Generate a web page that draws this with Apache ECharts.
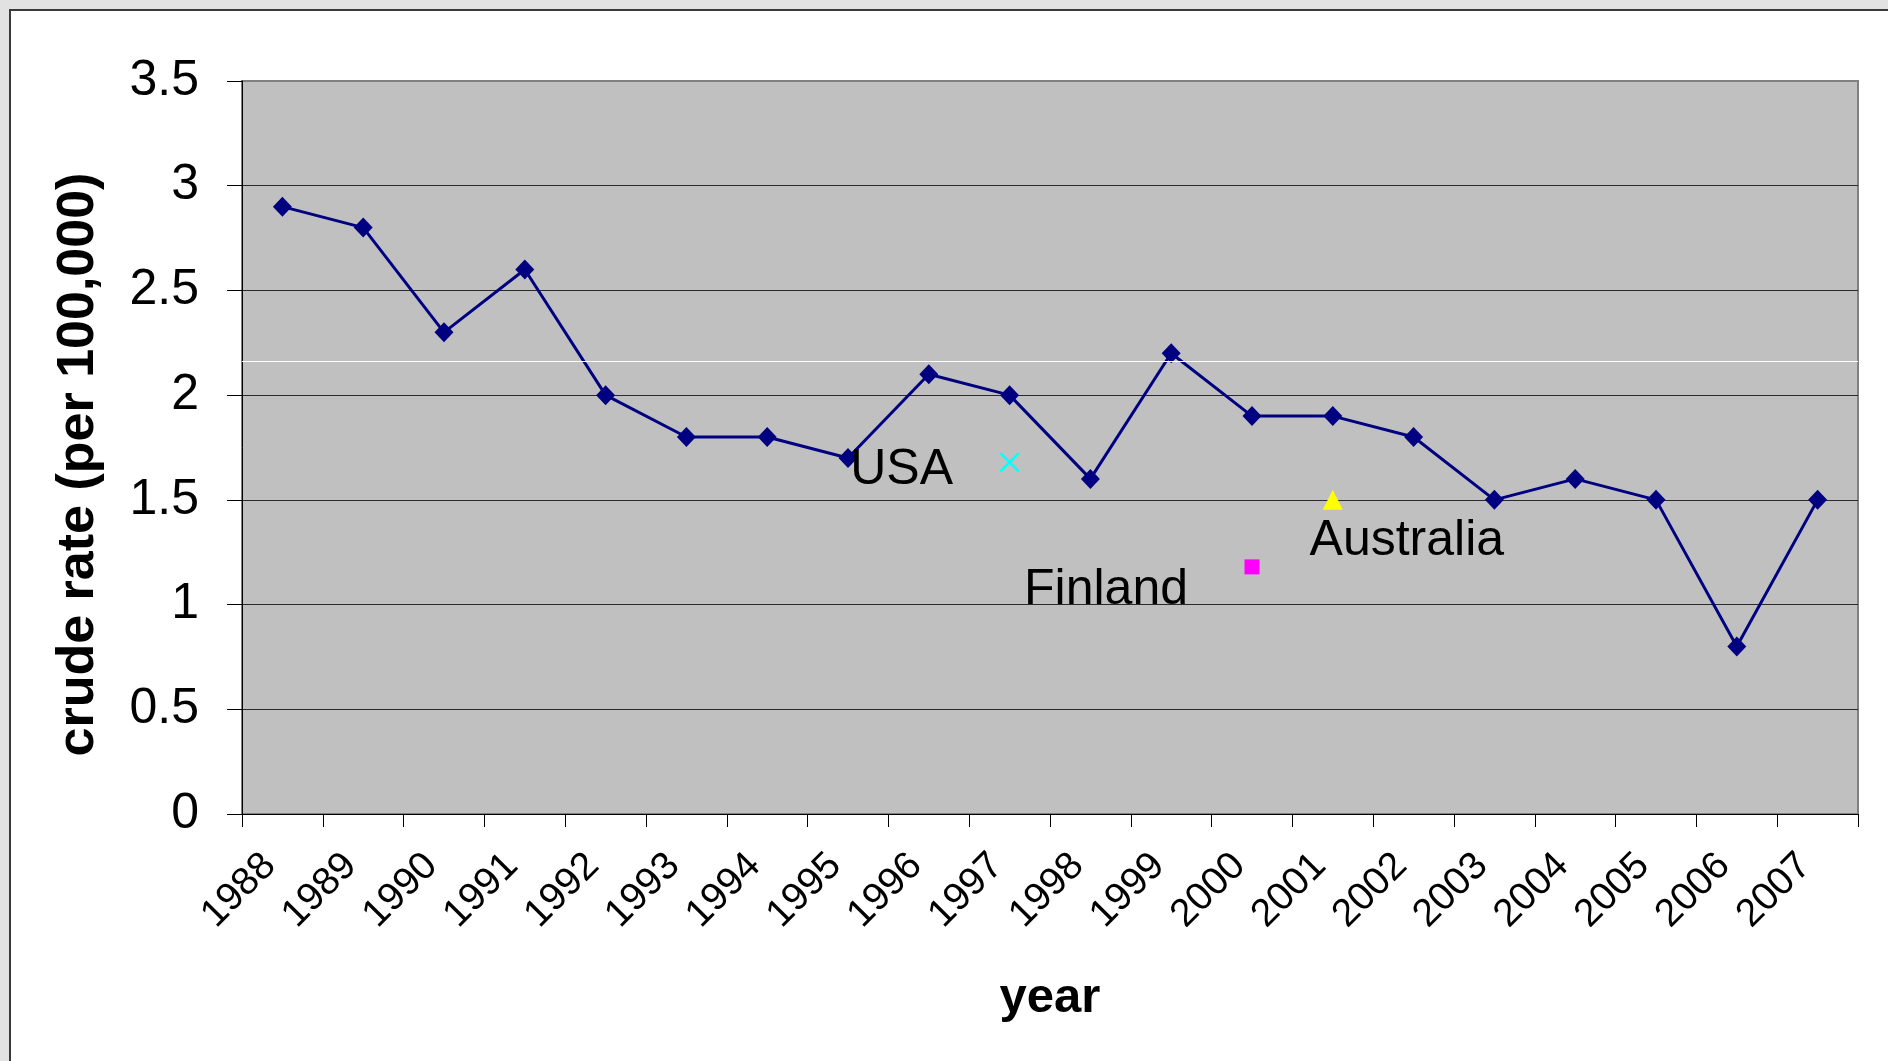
<!DOCTYPE html>
<html>
<head>
<meta charset="utf-8">
<title>Crude rate by year</title>
<script src="https://cdn.jsdelivr.net/npm/echarts@6/dist/echarts.min.js"></script>
<style>
  html, body { margin: 0; padding: 0; background: #e2e2e2; }
  #chart { width: 1888px; height: 1061px; }
</style>
</head>
<body>
<div id="chart"></div>
<script>
// Annual crude rate (per 100,000), 1988-2007
const years = ['1988', '1989', '1990', '1991', '1992', '1993', '1994', '1995', '1996', '1997',
               '1998', '1999', '2000', '2001', '2002', '2003', '2004', '2005', '2006', '2007'];
const crudeRates = [2.9, 2.8, 2.3, 2.6, 2.0, 1.8, 1.8, 1.7, 2.1, 2.0,
                    1.6, 2.2, 1.9, 1.9, 1.8, 1.5, 1.6, 1.5, 0.8, 1.5];

// Single-year comparison values for other countries
const countryNames = ['USA', 'Finland', 'Australia'];
const countryYears = ['1997', '2000', '2001'];
const countryRates = [1.68, 1.18, 1.5];

// Y axis range
const yMin = 0;
const yMax = 3.5;
const yStep = 0.5;

// Faint white reference line across the plot
const highlightLevel = 2.163;

const FONT = '"Liberation Sans", Arial, Helvetica, sans-serif';

// "X" marker drawn as a filled outline
const crossPath = 'path://M1.7,0 L10,8.3 L18.3,0 L20,1.7 L11.7,10 L20,18.3 L18.3,20 L10,11.7 L1.7,20 L0,18.3 L8.3,10 L0,1.7 Z';

const countryStyles = [
  { symbol: crossPath, size: 20, color: '#00FFFF', offset: [-108, 8] },
  { symbol: 'rect', size: 15, color: '#FF00FF', offset: [-146, 23] },
  { symbol: 'triangle', size: [20, 20], color: '#FFFF00', offset: [74, 41] }
];

const countrySeries = countryNames.map((name, i) => ({
  name: name,
  type: 'scatter',
  symbol: countryStyles[i].symbol,
  symbolSize: countryStyles[i].size,
  itemStyle: { color: countryStyles[i].color, opacity: 1 },
  z: 4,
  label: {
    show: true,
    position: 'inside',
    offset: countryStyles[i].offset,
    formatter: name,
    color: '#000',
    opacity: 1,
    textBorderWidth: 0,
    fontFamily: FONT,
    fontSize: 50
  },
  data: [[countryYears[i], countryRates[i]]]
}));

const chart = echarts.init(document.getElementById('chart'), null, { renderer: 'canvas' });

chart.setOption({
  animation: false,
  backgroundColor: '#e2e2e2',
  graphic: [{
    type: 'rect',
    z: -10,
    shape: { x: 10, y: 10, width: 1900, height: 1100 },
    style: { fill: '#ffffff', stroke: '#3a3a3a', lineWidth: 2 }
  }],
  grid: {
    left: 242,
    right: 30,
    top: 81,
    bottom: 247,
    show: true,
    backgroundColor: '#C0C0C0',
    borderColor: '#808080',
    borderWidth: 2
  },
  xAxis: {
    type: 'category',
    data: years,
    boundaryGap: true,
    name: 'year',
    nameLocation: 'middle',
    nameGap: 160,
    nameTextStyle: { fontFamily: FONT, fontSize: 49, fontWeight: 'bold', color: '#000' },
    axisLine: { show: true, lineStyle: { color: '#000', width: 1 } },
    axisTick: { show: true, length: 13, lineStyle: { color: '#000', width: 1 } },
    axisLabel: {
      rotate: 45,
      interval: 0,
      margin: 33,
      padding: [0, 18, 0, 0],
      fontFamily: FONT,
      fontSize: 39,
      color: '#000'
    },
    splitLine: { show: false }
  },
  yAxis: {
    type: 'value',
    min: yMin,
    max: yMax,
    interval: yStep,
    name: 'crude rate (per 100,000)',
    nameLocation: 'middle',
    nameGap: 137,
    nameTextStyle: {
      fontFamily: FONT, fontSize: 52, fontWeight: 'bold', color: '#000',
      padding: [0, 34, 0, 0]
    },
    axisLine: { show: true, lineStyle: { color: '#000', width: 1 } },
    axisTick: { show: true, length: 15, lineStyle: { color: '#000', width: 1 } },
    axisLabel: {
      margin: 43,
      fontFamily: FONT,
      fontSize: 50,
      color: '#000',
      formatter: v => String(v)
    },
    splitLine: {
      show: true,
      showMinLine: false,
      showMaxLine: false,
      lineStyle: { color: '#2a2a2a', width: 1 }
    }
  },
  series: [
    {
      name: 'crude rate',
      type: 'line',
      data: crudeRates,
      symbol: 'diamond',
      symbolSize: [19, 20],
      showAllSymbol: true,
      z: 3,
      lineStyle: { color: '#000080', width: 3 },
      itemStyle: { color: '#000080' },
      markLine: {
        silent: true,
        symbol: 'none',
        label: { show: false },
        lineStyle: { color: '#ffffff', width: 1, type: 'solid' },
        data: [{ yAxis: highlightLevel }]
      }
    },
    ...countrySeries
  ]
});
</script>
</body>
</html>
